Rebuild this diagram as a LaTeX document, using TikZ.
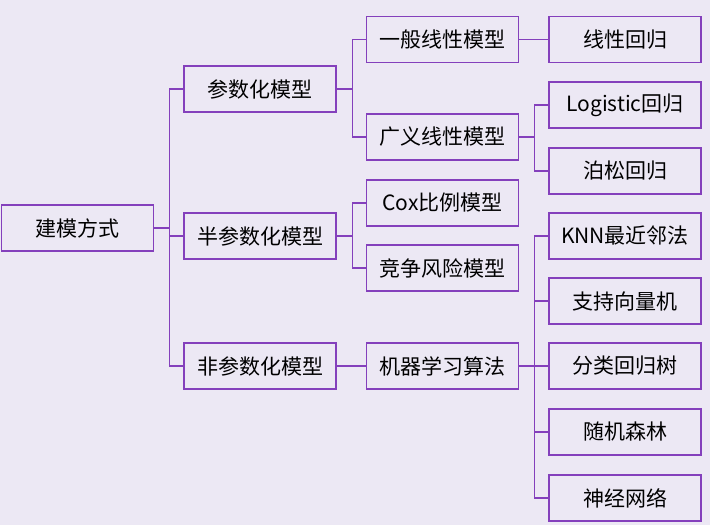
\documentclass[tikz,border=0pt]{standalone}
\usepackage{fontspec}
\setmainfont{Noto Sans CJK SC}
\usetikzlibrary{positioning}
\definecolor{bgcol}{HTML}{ECE8F4}
\definecolor{linecol}{HTML}{8440BC}

\begin{document}
\begin{tikzpicture}[x=1pt, y=-1pt, line width=1.2pt, draw=linecol,
        box/.style={draw=linecol, minimum width=152pt, minimum height=46pt, inner sep=0pt, font=\fontsize{21}{24}\selectfont}]
        \fill[bgcol] (0,0) rectangle (710,525);

        \node[box] (root) at (77.5,228) {建模方式};

        \node[box] (para) at (260,89) {参数化模型};
        \node[box] (semi) at (260,236) {半参数化模型};
        \node[box] (nonp) at (260,366) {非参数化模型};

        \node[box] (glm) at (442.5,39.5) {一般线性模型};
        \node[box] (ggl) at (442.5,137) {广义线性模型};
        \node[box] (cox) at (442.5,203) {Cox比例模型};
        \node[box] (risk) at (442.5,268) {竞争风险模型};
        \node[box] (ml) at (442.5,366) {机器学习算法};

        \node[box] (lin) at (625,39.5) {线性回归};
        \node[box] (logit) at (625,105) {Logistic回归};
        \node[box] (pois) at (625,171) {泊松回归};
        \node[box] (knn) at (625,236) {KNN最近邻法};
        \node[box] (svm) at (625,301) {支持向量机};
        \node[box] (cart) at (625,366) {分类回归树};
        \node[box] (rf) at (625,432) {随机森林};
        \node[box] (nn) at (625,498) {神经网络};

        % first level
        \draw (root.east) -- ++(15,0) coordinate (j0);
        \draw (j0) |- (para.west);
        \draw (j0) |- (semi.west);
        \draw (j0) |- (nonp.west);

        % second level
        \draw (para.east) -- ++(16,0) coordinate (j1);
        \draw (j1) |- (glm.west);
        \draw (j1) |- (ggl.west);
        \draw (semi.east) -- ++(16,0) coordinate (j2);
        \draw (j2) |- (cox.west);
        \draw (j2) |- (risk.west);
        \draw (nonp.east) -- (ml.west);

        % third level
        \draw (glm.east) -- (lin.west);
        \draw (ggl.east) -- ++(15,0) coordinate (j3);
        \draw (j3) |- (logit.west);
        \draw (j3) |- (pois.west);
        \draw (ml.east) -- ++(15,0) coordinate (j4);
        \foreach \n in {knn, svm, cart, rf, nn}
            \draw (j4) |- (\n.west);
    \end{tikzpicture}
\end{document}
